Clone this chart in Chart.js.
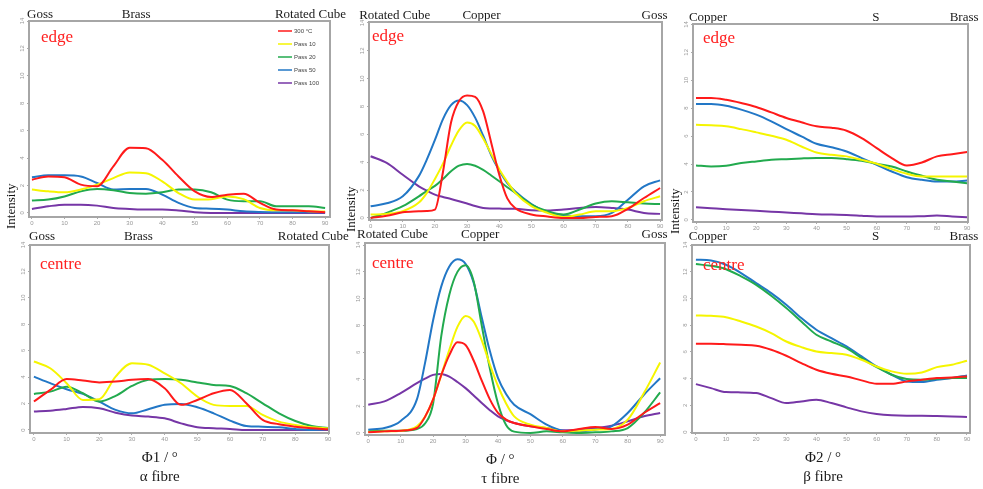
<!DOCTYPE html>
<html>
<head>
<meta charset="utf-8">
<script src="https://cdn.jsdelivr.net/npm/chart.js@4.4.1/dist/chart.umd.min.js"></script>
<style>
  html, body { margin: 0; padding: 0; background: #fff; }
  body { width: 983px; height: 489px; position: relative; overflow: hidden; }
  .panel { position: absolute; }
</style>
</head>
<body>
<div id="p1" class="panel"><canvas></canvas></div>
<div id="p2" class="panel"><canvas></canvas></div>
<div id="p3" class="panel"><canvas></canvas></div>
<div id="p4" class="panel"><canvas></canvas></div>
<div id="p5" class="panel"><canvas></canvas></div>
<div id="p6" class="panel"><canvas></canvas></div>
<script>
// angles (degrees)
const phi = [0, 5, 10, 15, 20, 25, 30, 35, 40, 45, 50, 55, 60, 65, 70, 75, 80, 85, 90];
const phiTau = [0, 5, 10, 15, 17.5, 20, 22.5, 25, 27.5, 30, 32.5, 35, 37.5, 40, 42.5, 45, 50, 55, 60, 65, 70, 75, 80, 85, 90];
const xTicks = [0, 10, 20, 30, 40, 50, 60, 70, 80, 90];
const yTicks = [0, 2, 4, 6, 8, 10, 12, 14];

const seriesNames = ['300 °C', 'Pass 10', 'Pass 20', 'Pass 50', 'Pass 100'];
const seriesColors = ['#ff1a1a', '#f5f500', '#22aa4e', '#2277c6', '#7636a6'];

// texture components written above each fibre
const alphaComps = ['Goss', 'Brass', 'Rotated Cube'];
const alphaCompAt = [2.5, 32, 85.5];
const tauComps = ['Rotated Cube', 'Copper', 'Goss'];
const tauCompAt = [7.5, 34.5, 88.3];
const betaComps = ['Copper', 'S', 'Brass'];
const betaCompAt = [4, 59.7, 89];

// rows: 300 °C, Pass 10, Pass 20, Pass 50, Pass 100
const alphaEdge = [
  [2.42, 2.66, 2.6, 2.06, 1.94, 3.4, 4.75, 4.72, 3.87, 2.66, 1.57, 1.16, 1.33, 1.4, 0.73, 0.24, 0.19, 0.12, 0.05],
  [1.7, 1.57, 1.5, 1.7, 2.06, 2.54, 2.95, 2.9, 2.3, 1.45, 0.97, 1.0, 1.2, 1.0, 0.36, 0.19, 0.19, 0.12, 0.1],
  [0.9, 0.97, 1.2, 1.57, 1.74, 1.65, 1.45, 1.4, 1.5, 1.7, 1.7, 1.5, 0.97, 0.85, 0.85, 0.48, 0.48, 0.48, 0.36],
  [2.6, 2.74, 2.74, 2.66, 2.18, 1.7, 1.74, 1.74, 1.33, 0.73, 0.36, 0.31, 0.24, 0.12, 0.07, 0.05, 0.05, 0.05, 0.05],
  [0.29, 0.48, 0.6, 0.6, 0.53, 0.36, 0.29, 0.24, 0.24, 0.17, 0.05, 0, 0, 0, 0, 0, 0, 0, 0]
];
const tauEdge = [
  [0, 0.15, 0.4, 0.47, 0.5, 0.6, 3.3, 6.85, 8.4, 8.8, 8.7, 7.65, 5.4, 3.1, 1.4, 0.7, 0.25, 0.1, 0, 0, 0.07, 0.12, 0.65, 1.43, 2.15],
  [0.24, 0.29, 0.48, 1.1, 1.8, 2.8, 3.9, 5.2, 6.3, 6.85, 6.6, 5.7, 4.6, 3.5, 2.6, 1.8, 0.84, 0.36, 0.07, 0.24, 0.48, 0.48, 0.72, 1.2, 1.55],
  [0, 0.36, 0.84, 1.55, 1.95, 2.3, 2.8, 3.35, 3.75, 3.88, 3.75, 3.45, 3.05, 2.63, 2.2, 1.8, 0.96, 0.48, 0.24, 0.6, 1.03, 1.2, 1.12, 1.03, 1.0],
  [0.84, 1.05, 1.55, 3.0, 4.2, 5.6, 7.1, 8.1, 8.44, 8.1, 7.2, 5.9, 4.5, 3.4, 2.5, 1.9, 1.0, 0.4, 0.2, 0.12, 0.12, 0.36, 1.3, 2.27, 2.7],
  [4.43, 3.95, 3.1, 2.27, 1.95, 1.67, 1.5, 1.36, 1.2, 1.03, 0.85, 0.72, 0.68, 0.67, 0.66, 0.65, 0.55, 0.53, 0.6, 0.72, 0.79, 0.72, 0.6, 0.36, 0.29]
];
const betaEdge = [
  [8.73, 8.73, 8.6, 8.37, 8.09, 7.7, 7.3, 6.99, 6.7, 6.6, 6.39, 5.86, 5.14, 4.43, 3.9, 4.11, 4.55, 4.71, 4.86],
  [6.82, 6.77, 6.7, 6.5, 6.27, 6.03, 5.74, 5.26, 4.83, 4.66, 4.55, 4.3, 4.02, 3.64, 3.3, 3.11, 3.11, 3.11, 3.11],
  [3.9, 3.83, 3.88, 4.07, 4.19, 4.3, 4.35, 4.4, 4.43, 4.43, 4.35, 4.23, 4.02, 3.83, 3.47, 3.16, 2.87, 2.75, 2.63],
  [8.3, 8.3, 8.18, 7.9, 7.54, 7.06, 6.5, 5.98, 5.45, 5.2, 4.9, 4.43, 3.95, 3.47, 3.06, 2.87, 2.75, 2.75, 2.82],
  [0.91, 0.84, 0.77, 0.71, 0.65, 0.59, 0.53, 0.47, 0.41, 0.38, 0.36, 0.3, 0.24, 0.24, 0.24, 0.27, 0.31, 0.25, 0.19]
];
const alphaCentre = [
  [2.15, 3.03, 3.85, 3.74, 3.6, 3.66, 3.8, 3.85, 3.16, 1.9, 2.27, 2.78, 3.03, 2.02, 0.76, 0.43, 0.25, 0.13, 0.05],
  [5.18, 4.67, 3.54, 2.27, 2.32, 4.04, 5.05, 4.93, 4.29, 3.54, 2.53, 1.9, 1.82, 1.82, 1.14, 0.63, 0.38, 0.2, 0.13],
  [2.73, 2.9, 3.28, 2.78, 2.15, 2.58, 3.33, 3.8, 3.86, 3.8, 3.6, 3.41, 3.33, 2.78, 2.02, 1.26, 0.68, 0.3, 0.15],
  [4.04, 3.54, 3.08, 2.73, 2.15, 1.52, 1.26, 1.57, 1.9, 1.97, 1.72, 1.26, 0.71, 0.3, 0.25, 0.2, 0.08, 0, 0.05],
  [1.39, 1.46, 1.59, 1.74, 1.64, 1.31, 1.09, 1.01, 0.88, 0.5, 0.2, 0.13, 0.08, 0, 0, 0, 0, 0, 0]
];
const tauCentre = [
  [0.05, 0.12, 0.17, 0.37, 1.2, 2.5, 4.3, 5.8, 6.75, 6.55, 5.4, 3.9, 2.5, 1.5, 1.0, 0.74, 0.5, 0.3, 0.12, 0.3, 0.45, 0.3, 0.62, 1.49, 2.23],
  [0.07, 0.12, 0.17, 0.5, 1.2, 2.5, 4.3, 6.2, 7.9, 8.72, 8.3, 6.9, 5.1, 3.5, 2.2, 1.24, 0.62, 0.37, 0.12, 0.17, 0.25, 0.3, 0.99, 2.97, 5.25],
  [0.12, 0.17, 0.17, 0.3, 0.7, 2.2, 7.2, 10.3, 12.0, 12.5, 11.3, 8.0, 4.8, 2.2, 0.6, 0.1, 0, 0.12, 0.05, 0, 0.05, 0.12, 0.37, 1.49, 3.02],
  [0.25, 0.37, 0.9, 2.5, 5.2, 8.4, 10.9, 12.4, 12.94, 12.6, 11.2, 8.6, 6.1, 4.1, 2.9, 2.1, 1.4, 0.62, 0.17, 0.12, 0.25, 0.5, 1.49, 2.85, 4.08],
  [2.1, 2.35, 2.97, 3.71, 4.05, 4.33, 4.4, 4.2, 3.8, 3.34, 2.8, 2.23, 1.7, 1.24, 0.95, 0.74, 0.5, 0.37, 0.2, 0.25, 0.37, 0.54, 0.87, 1.24, 1.49]
];
const betaCentre = [
  [6.61, 6.61, 6.58, 6.53, 6.46, 6.16, 5.71, 5.16, 4.66, 4.36, 4.16, 3.87, 3.62, 3.62, 3.79, 3.92, 4.04, 4.09, 4.16],
  [8.73, 8.7, 8.6, 8.28, 7.9, 7.41, 6.78, 6.36, 6.03, 5.91, 5.79, 5.41, 4.91, 4.54, 4.36, 4.46, 4.86, 5.04, 5.34],
  [12.57, 12.44, 12.19, 11.65, 11.02, 10.2, 9.28, 8.28, 7.28, 6.78, 6.28, 5.54, 4.86, 4.29, 3.97, 3.92, 3.99, 4.04, 4.04],
  [12.9, 12.84, 12.52, 11.9, 11.15, 10.4, 9.53, 8.53, 7.66, 7.03, 6.41, 5.66, 4.91, 4.29, 3.79, 3.74, 3.92, 4.04, 4.24],
  [3.59, 3.29, 2.99, 2.97, 2.92, 2.54, 2.17, 2.29, 2.42, 2.17, 1.85, 1.55, 1.35, 1.25, 1.22, 1.22, 1.2, 1.17, 1.12]
];

const serif = '"Liberation Serif", "DejaVu Serif", serif';

// frame, sample name, y title, x titles and the small legend
const decor = {
  id: 'decor',
  afterDraw(chart, args, o) {
    const { ctx, chartArea: a, scales } = chart;
    ctx.save();
    ctx.strokeStyle = '#a6a6a6';
    ctx.lineWidth = 2;
    ctx.strokeRect(a.left, a.top, a.right - a.left, a.bottom - a.top);

    ctx.fillStyle = '#ff2020';
    ctx.font = '17px ' + serif;
    ctx.textAlign = 'left';
    ctx.textBaseline = 'alphabetic';
    ctx.fillText(o.sample, a.left + o.sampleDx, a.top + o.sampleDy);

    if (o.yTitle) {
      ctx.save();
      ctx.translate(a.left - 17, a.bottom + 12);
      ctx.rotate(-Math.PI / 2);
      ctx.font = '13px ' + serif;
      ctx.fillStyle = '#111';
      ctx.textBaseline = 'middle';
      ctx.fillText(o.yTitle, 0, 0);
      ctx.restore();
    }

    if (o.xTitle) {
      const cx = scales.x.getPixelForValue(o.xTitleAt);
      ctx.font = '15px ' + serif;
      ctx.fillStyle = '#1a1a1a';
      ctx.textAlign = 'center';
      ctx.fillText(o.xTitle[0], cx, a.bottom + 29);
      ctx.fillText(o.xTitle[1], cx, a.bottom + 48);
    }

    if (o.legend) {
      ctx.font = '6px "Liberation Sans", sans-serif';
      ctx.textAlign = 'left';
      ctx.textBaseline = 'middle';
      chart.data.datasets.forEach((ds, i) => {
        const y = a.top + 10 + 13 * i;
        ctx.strokeStyle = ds.borderColor;
        ctx.lineWidth = 1.5;
        ctx.beginPath();
        ctx.moveTo(a.right - 52, y);
        ctx.lineTo(a.right - 38, y);
        ctx.stroke();
        ctx.fillStyle = '#444';
        ctx.fillText(ds.label, a.right - 36, y);
      });
    }
    ctx.restore();
  }
};

function makePanel(id, box, xs, rows, comps, compAt, opt) {
  const [L, T, R, B] = box;
  const padB = opt.bottomRow ? 52 : 6;
  const el = document.getElementById(id);
  el.style.left = (L - 28) + 'px';
  el.style.top = (T - 24) + 'px';
  el.style.width = (R - L + 54) + 'px';
  el.style.height = (B - T + 24 + 12 + padB) + 'px';

  const tickFont = { size: 6, family: '"Liberation Sans", sans-serif' };

  new Chart(el.querySelector('canvas'), {
    type: 'line',
    data: {
      datasets: rows.map((vals, i) => ({
        label: seriesNames[i],
        data: vals.map((v, j) => ({ x: xs[j], y: v })),
        borderColor: seriesColors[i],
        borderWidth: 2,
        pointRadius: 0,
        cubicInterpolationMode: 'monotone',
        xAxisID: 'x',
        yAxisID: 'y'
      }))
    },
    options: {
      responsive: true,
      maintainAspectRatio: false,
      animation: false,
      events: [],
      layout: { padding: { left: 4, top: 4, right: 26, bottom: padB } },
      plugins: {
        legend: { display: false },
        tooltip: { enabled: false },
        decor: opt
      },
      scales: {
        x: {
          type: 'linear', position: 'bottom', min: opt.xr[0], max: opt.xr[1],
          afterBuildTicks: s => { s.ticks = xTicks.map(v => ({ value: v })); },
          afterFit: s => { s.height = 12; },
          ticks: { font: tickFont, color: '#999', padding: 1, maxRotation: 0, autoSkip: false },
          grid: { drawOnChartArea: false, tickLength: 2, color: '#aaa' },
          border: { display: false }
        },
        top: {
          type: 'linear', position: 'top', min: opt.xr[0], max: opt.xr[1],
          afterBuildTicks: s => { s.ticks = compAt.map(v => ({ value: v })); },
          afterFit: s => { s.height = 20; },
          ticks: {
            callback: (v, i) => comps[i],
            font: { size: 13, family: serif }, color: '#1a1a1a',
            padding: opt.bottomRow ? 1 : -1, maxRotation: 0, autoSkip: false
          },
          grid: { display: false, drawTicks: false },
          border: { display: false }
        },
        y: {
          type: 'linear', min: opt.yr[0], max: opt.yr[1],
          afterBuildTicks: s => { s.ticks = yTicks.map(v => ({ value: v })); },
          afterFit: s => { s.width = 24; },
          ticks: { font: tickFont, color: '#999', padding: 1, minRotation: 90, maxRotation: 90, crossAlign: 'center' },
          grid: { drawOnChartArea: false, tickLength: 2, color: '#aaa' },
          border: { display: false }
        }
      }
    },
    plugins: [decor]
  });
}

makePanel('p1', [29, 21, 330, 217], phi, alphaEdge, alphaComps, alphaCompAt,
  { sample: 'edge', sampleDx: 12, sampleDy: 21, yTitle: 'Intensity', legend: true, xr: [-0.9, 91.5], yr: [-0.3, 14] });
makePanel('p2', [369, 22, 662, 220], phiTau, tauEdge, tauComps, tauCompAt,
  { sample: 'edge', sampleDx: 3, sampleDy: 19, yTitle: 'Intensity', xr: [-0.5, 90.6], yr: [-0.15, 14.07] });
makePanel('p3', [693, 24, 968, 222], phi, betaEdge, betaComps, betaCompAt,
  { sample: 'edge', sampleDx: 10, sampleDy: 19, yTitle: 'Intensity', xr: [-1, 90.3], yr: [-0.15, 14.03] });
makePanel('p4', [30, 245, 329, 433], phi, alphaCentre, alphaComps, alphaCompAt,
  { sample: 'centre', sampleDx: 10, sampleDy: 24, xTitle: ['Φ1 / °', 'α fibre'], xTitleAt: 38.5, bottomRow: true, xr: [-1.2, 90.3], yr: [-0.23, 14] });
makePanel('p5', [365, 243, 665, 435], phiTau, tauCentre, tauComps, tauCompAt,
  { sample: 'centre', sampleDx: 7, sampleDy: 25, xTitle: ['Φ / °', 'τ fibre'], xTitleAt: 40.7, bottomRow: true, xr: [-1, 91.5], yr: [-0.15, 14.15] });
makePanel('p6', [692, 245, 970, 433], phi, betaCentre, betaComps, betaCompAt,
  { sample: 'centre', sampleDx: 11, sampleDy: 25, xTitle: ['Φ2 / °', 'β fibre'], xTitleAt: 42.2, bottomRow: true, xr: [-1.3, 91], yr: [-0.07, 14] });
</script>
</body>
</html>
